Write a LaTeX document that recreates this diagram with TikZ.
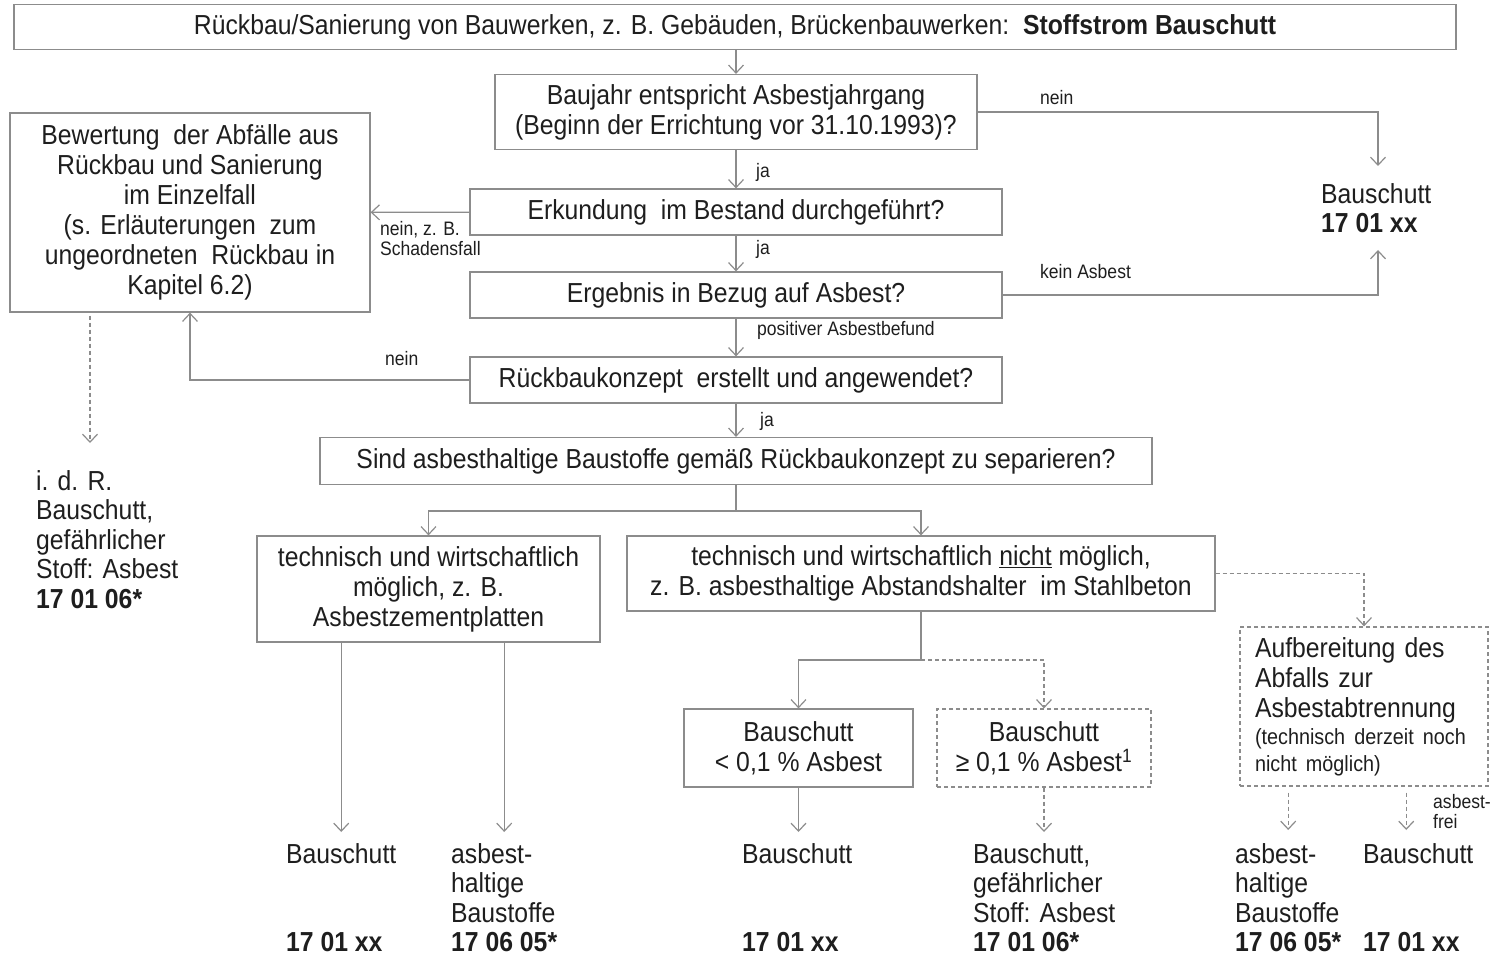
\documentclass[tikz,border=0pt]{standalone}
\usepackage{fontspec}
\setmainfont[FakeStretch=0.9]{Liberation Sans}
\usetikzlibrary{arrows.meta}

\definecolor{linegray}{RGB}{140,140,140}
\definecolor{txtgray}{RGB}{30,30,30}

\tikzset{
	box/.style={draw=linegray, line width=1.2pt, align=center, inner sep=0pt, text=txtgray, font=\fontsize{27.5}{30}\selectfont},
	dbox/.style={box, dash pattern=on 4pt off 3pt},
	lbl/.style={text=txtgray, font=\fontsize{19.5}{20}\selectfont, inner sep=0pt, align=left, anchor=north west},
	res/.style={text=txtgray, font=\fontsize{27.5}{29.5}\selectfont, inner sep=0pt, align=left, anchor=north west},
	flow/.style={draw=linegray, line width=1.2pt, ->},
	dflow/.style={flow, dash pattern=on 4pt off 3pt},
}

\begin{document}
\begin{tikzpicture}[x=1pt, y=-1pt, >={Straight Barb[length=8pt,width=15pt]}]
	\useasboundingbox (0,0) rectangle (1491,957);

	% main column
	\node[box, minimum width=1442, minimum height=45] (title) at (735,27)
		{Rückbau/Sanierung von Bauwerken, z. B. Gebäuden, Brückenbauwerken:\ \ \textbf{Stoffstrom Bauschutt}};
	\node[box, minimum width=482, minimum height=75] (baujahr) at (736,112)
		{Baujahr entspricht Asbestjahrgang\\(Beginn der Errichtung vor 31.10.1993)?};
	\node[box, minimum width=532, minimum height=46] (erkund) at (736,212) {Erkundung\ \ im Bestand durchgeführt?};
	\node[box, minimum width=532, minimum height=46] (ergeb) at (736,295) {Ergebnis in Bezug auf Asbest?};
	\node[box, minimum width=532, minimum height=46] (konzept) at (736,380) {Rückbaukonzept\ \ erstellt und angewendet?};
	\node[box, minimum width=832, minimum height=47] (separ) at (736,461)
		{Sind asbesthaltige Baustoffe gemäß Rückbaukonzept zu separieren?};

	% left side
	\node[box, minimum width=360, minimum height=199] (bewert) at (190,212.5)
		{Bewertung\ \ der Abfälle aus\\Rückbau und Sanierung\\im Einzelfall\\(s. Erläuterungen\ \ zum\\ungeordneten\ \ Rückbau in\\Kapitel 6.2)};
	\node[res] (idr) at (36,470) {i. d. R.\\Bauschutt,\\gefährlicher\\Stoff: Asbest\\\textbf{17 01 06*}};
	\coordinate (idrIn) at (90,443);

	% right side
	\node[res] (bsRechts) at (1321,183) {Bauschutt\\\textbf{17 01 xx}};
	\coordinate (bsIn) at (1378,166);
	\coordinate (bsIn2) at (1378,250);

	% split
	\coordinate (split) at (736,511);
	\node[box, minimum width=343, minimum height=106] (moegl) at (428.5,589)
		{technisch und wirtschaftlich\\möglich, z. B.\\Asbestzementplatten};
	\node[box, minimum width=588, minimum height=75] (nicht) at (921,573.5)
		{technisch und wirtschaftlich \underline{nicht} möglich,\\z. B. asbesthaltige Abstandshalter\ \ im Stahlbeton};
	\coordinate (split2) at (921,660);
	\node[box, minimum width=229, minimum height=78] (lt) at (798.5,748) {Bauschutt\\< 0,1 \% Asbest};
	\node[dbox, minimum width=214, minimum height=78] (ge) at (1044,748) {Bauschutt\\≥ 0,1 \% Asbest\textsuperscript{1}};
	\node[dbox, minimum width=248, minimum height=159, align=left, text width=218, inner xsep=15] (aufb) at (1364,706.5)
		{Aufbereitung des\\Abfalls zur\\Asbestabtrennung\\[-3pt]{\fontsize{22}{25}\selectfont (technisch derzeit noch}\\[-3pt]{\fontsize{22}{25}\selectfont nicht möglich)}};

	% results
	\node[res] (res1) at (286,843) {Bauschutt\\[59pt]\textbf{17 01 xx}};
	\node[res] (res2) at (451,843) {asbest-\\haltige\\Baustoffe\\\textbf{17 06 05*}};
	\node[res] (res3) at (742,843) {Bauschutt\\[59pt]\textbf{17 01 xx}};
	\node[res] (res4) at (973,843) {Bauschutt,\\gefährlicher\\Stoff: Asbest\\\textbf{17 01 06*}};
	\node[res] (res5) at (1235,843) {asbest-\\haltige\\Baustoffe\\\textbf{17 06 05*}};
	\node[res] (res6) at (1363,843) {Bauschutt\\[59pt]\textbf{17 01 xx}};

	% labels
	\node[lbl] (lNein1) at (1040,90) {nein};
	\node[lbl] (lJa1) at (756,163) {ja};
	\node[lbl] (lNeinZB) at (380,221) {nein, z. B.\\Schadensfall};
	\node[lbl] (lJa2) at (756,240) {ja};
	\node[lbl] (lKein) at (1040,264) {kein Asbest};
	\node[lbl] (lPos) at (757,321) {positiver Asbestbefund};
	\node[lbl] (lNein2) at (385,351) {nein};
	\node[lbl] (lJa3) at (760,412) {ja};
	\node[lbl] (lFrei) at (1433,794) {asbest-\\frei};

	% connectors
	\draw[flow] (baujahr.north |- title.south) -- (baujahr.north);
	\draw[flow] (baujahr) -- (erkund);
	\draw[flow] (baujahr.east) -| (bsIn);
	\draw[flow] (erkund) -- (ergeb);
	\draw[flow] (erkund) -- (bewert);
	\draw[flow] (ergeb) -- (konzept);
	\draw[flow] (ergeb.east) -| (bsIn2);
	\draw[flow] (konzept.west) -| (bewert.south);
	\draw[dflow, shorten <=3pt] (bewert.south -| idrIn) -- (idrIn);
	\draw[flow] (konzept) -- (separ);
	\draw[flow] (separ.south) -- (split) -| (moegl.north);
	\draw[flow] (split) -| (nicht.north);
	\draw[flow] (nicht.south) -- (split2) -| (lt.north);
	\draw[dflow] (split2) -| (ge.north);
	\draw[dflow] (nicht.east) -| (aufb.north);
	\draw[flow, shorten >=11pt] (res1.north |- moegl.south) -- (res1.north);
	\draw[flow, shorten >=11pt] (res2.north |- moegl.south) -- (res2.north);
	\draw[flow, shorten >=11pt] (lt.south) -- (lt.south |- res3.north);
	\draw[dflow, shorten >=11pt] (ge.south) -- (ge.south |- res4.north);
	\draw[dflow, shorten <=6pt, shorten >=13pt] (res5.north |- aufb.south) -- (res5.north);
	\draw[dflow, shorten <=6pt, shorten >=13pt] ([xshift=-12pt]res6.north |- aufb.south) -- ([xshift=-12pt]res6.north);
\end{tikzpicture}
\end{document}
